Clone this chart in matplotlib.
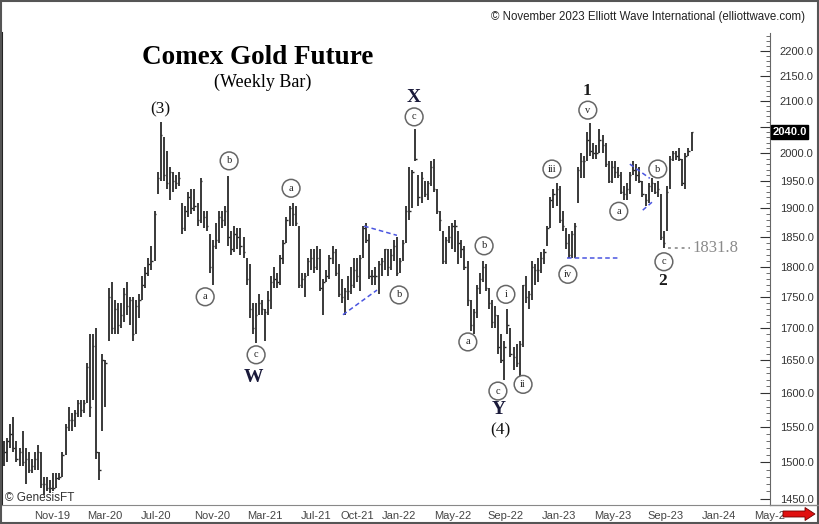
import matplotlib
matplotlib.use('Agg')
import matplotlib.pyplot as plt
import matplotlib.transforms as mtransforms
from matplotlib.patches import Rectangle, FancyArrow
import pandas as pd

# weekly bars, first bar = week of 12 Aug 2019
start = '2019-08-12'

highs = [
    # 2019
    1530, 1535, 1555, 1565, 1530, 1520, 1545, 1520, 1515, 1505, 1515, 1525, 1515, 1480, 1480,
    1475, 1485, 1485, 1485, 1515, 1555,
    # 2020
    1580, 1570, 1575, 1590, 1590, 1590, 1645, 1690, 1690, 1700, 1515, 1660, 1650, 1765, 1775,
    1745, 1740, 1740, 1765, 1775, 1750, 1750, 1745, 1755, 1785, 1800, 1815, 1835, 1895, 1965,
    2060, 2030, 2005, 1975, 1965, 1960, 1965, 1910, 1905, 1930, 1935, 1935, 1910, 1955, 1895,
    1895, 1855, 1845, 1875, 1895, 1895, 1905,
    # 2021
    1958, 1860, 1870, 1865, 1865, 1850, 1815, 1805, 1740, 1740, 1755, 1745, 1730, 1760, 1785,
    1800, 1790, 1820, 1845, 1885, 1905, 1910, 1905, 1870, 1790, 1790, 1815, 1830, 1830, 1835,
    1830, 1780, 1795, 1820, 1835, 1830, 1805, 1780, 1765, 1785, 1800, 1815, 1815, 1820, 1870,
    1875, 1855, 1795, 1800, 1810, 1815, 1830,
    # 2022
    1830, 1830, 1845, 1850, 1815, 1845, 1905, 1975, 1970, 2045, 1960, 1965, 1950, 1950, 1985,
    1990, 1935, 1895, 1860, 1850, 1870, 1875, 1880, 1860, 1845, 1835, 1810, 1745, 1730, 1770,
    1790, 1810, 1805, 1765, 1745, 1735, 1720, 1690, 1680, 1730, 1700, 1670, 1675, 1680, 1770,
    1785, 1760, 1810, 1805, 1815, 1825, 1830,
    # 2023
    1870, 1920, 1935, 1945, 1940, 1895, 1865, 1855, 1860, 1875, 1975, 2000, 1995, 2040, 2057,
    2020, 2015, 2045, 2035, 2020, 1985, 1985, 1985, 1975, 1965, 1940, 1945, 1965, 1985, 1980,
    1975, 1950, 1925, 1945, 1955, 1945, 1950, 1925, 1860, 1940, 1995, 2005, 2005, 2010, 1990,
    2000, 2010, 2040,
]

lows = [
    # 2019
    1495, 1500, 1520, 1515, 1500, 1495, 1495, 1470, 1485, 1485, 1490, 1490, 1465, 1455, 1460,
    1458, 1460, 1465, 1475, 1480, 1510,
    # 2020
    1545, 1545, 1550, 1565, 1565, 1570, 1585, 1565, 1590, 1505, 1476, 1545, 1580, 1680, 1690,
    1690, 1690, 1700, 1710, 1720, 1705, 1680, 1690, 1715, 1745, 1765, 1785, 1795, 1810, 1925,
    1950, 1950, 1935, 1915, 1930, 1935, 1940, 1855, 1860, 1885, 1890, 1895, 1870, 1875, 1865,
    1860, 1790, 1770, 1830, 1840, 1865, 1870,
    # 2021
    1835, 1820, 1825, 1830, 1820, 1815, 1770, 1715, 1690, 1676, 1720, 1720, 1680, 1720, 1730,
    1765, 1765, 1770, 1805, 1840, 1870, 1870, 1870, 1765, 1765, 1750, 1785, 1795, 1790, 1795,
    1760, 1720, 1775, 1780, 1805, 1785, 1750, 1740, 1720, 1745, 1755, 1765, 1775, 1760, 1815,
    1840, 1780, 1770, 1770, 1755, 1785, 1795,
    # 2022
    1785, 1795, 1810, 1785, 1790, 1810, 1840, 1880, 1900, 1985, 1905, 1910, 1920, 1915, 1940,
    1930, 1890, 1860, 1805, 1805, 1840, 1830, 1825, 1805, 1815, 1795, 1735, 1695, 1690, 1715,
    1755, 1775, 1760, 1730, 1700, 1700, 1660, 1645, 1620, 1690, 1655, 1635, 1640, 1625, 1670,
    1740, 1730, 1745, 1770, 1775, 1790, 1805,
    # 2023
    1835, 1865, 1900, 1905, 1875, 1860, 1830, 1815, 1815, 1815, 1910, 1955, 1955, 1985, 1995,
    1990, 1990, 2000, 2000, 1975, 1945, 1945, 1955, 1955, 1925, 1915, 1915, 1925, 1960, 1950,
    1945, 1920, 1905, 1910, 1930, 1925, 1920, 1845, 1832, 1860, 1935, 1985, 1988, 1985, 1940,
    1935, 1995, 2005,
]

closes = [
    # 2019
    1515, 1530, 1540, 1520, 1505, 1515, 1500, 1505, 1490, 1495, 1505, 1515, 1470, 1470, 1465,
    1465, 1465, 1478, 1480, 1510, 1550,
    # 2020
    1560, 1560, 1570, 1585, 1575, 1585, 1640, 1580, 1672, 1515, 1490, 1650, 1645, 1750, 1700,
    1730, 1705, 1720, 1755, 1735, 1745, 1690, 1735, 1745, 1770, 1790, 1805, 1810, 1890, 1955,
    2035, 1960, 1945, 1965, 1950, 1945, 1955, 1865, 1895, 1920, 1900, 1905, 1880, 1950, 1885,
    1870, 1800, 1835, 1845, 1885, 1880, 1895,
    # 2021
    1850, 1830, 1855, 1850, 1835, 1825, 1780, 1730, 1700, 1720, 1740, 1730, 1725, 1745, 1775,
    1780, 1775, 1815, 1840, 1880, 1900, 1890, 1875, 1770, 1780, 1785, 1810, 1815, 1800, 1815,
    1765, 1775, 1785, 1815, 1825, 1790, 1755, 1750, 1760, 1760, 1770, 1795, 1785, 1815, 1865,
    1845, 1785, 1785, 1785, 1805, 1810, 1830,
    # 2022
    1800, 1820, 1835, 1790, 1810, 1840, 1895, 1895, 1965, 1990, 1920, 1955, 1925, 1945, 1975,
    1935, 1895, 1880, 1810, 1845, 1850, 1870, 1870, 1840, 1830, 1800, 1745, 1705, 1725, 1765,
    1780, 1800, 1765, 1740, 1710, 1720, 1670, 1650, 1670, 1705, 1660, 1655, 1645, 1675, 1770,
    1750, 1755, 1800, 1795, 1795, 1815, 1825,
    # 2023
    1865, 1915, 1925, 1935, 1880, 1870, 1840, 1820, 1855, 1870, 1970, 1985, 1985, 2025, 2005,
    2000, 2000, 2025, 2015, 1980, 1950, 1975, 1965, 1960, 1930, 1925, 1935, 1960, 1970, 1960,
    1950, 1925, 1915, 1940, 1945, 1930, 1935, 1850, 1840, 1930, 1990, 2000, 1995, 1990, 1945,
    1995, 2005, 2040,
]

month_ticks = ['2019-11-01', '2020-03-01', '2020-07-01', '2020-11-01', '2021-03-01',
               '2021-07-01', '2021-10-01', '2022-01-01', '2022-05-01', '2022-09-01',
               '2023-01-01', '2023-05-01', '2023-09-01', '2024-01-01', '2024-05-01']
month_labels = ['Nov-19', 'Mar-20', 'Jul-20', 'Nov-20', 'Mar-21', 'Jul-21', 'Oct-21',
                'Jan-22', 'May-22', 'Sep-22', 'Jan-23', 'May-23', 'Sep-23', 'Jan-24', 'May-2']
price_ticks = list(range(1450, 2201, 50))
last_price = 2040.0
wave2_low = 1831.8

# wave labels: (week number, price, text)
circled = [
    (65.5, 1750, 'a'), (73.3, 1986, 'b'), (82.1, 1658, 'c'),
    (93.5, 1936, 'a'), (128.7, 1753, 'b'), (133.6, 2069, 'c'),
    (151.1, 1678, 'a'), (156.4, 1835, 'b'), (160.9, 1603, 'c'),
    (163.5, 1754, 'i'), (169.1, 1613, 'ii'), (178.5, 1971, 'iii'),
    (183.7, 1787, 'iv'), (190.2, 2082, 'v'),
    (200.3, 1895, 'a'), (213.0, 1971, 'b'), (215.0, 1808, 'c'),
]
degree_labels = [(50.8, 2084, '(3)'), (161.6, 1546, '(4)')]
bold_labels = [(81.4, 1624, 'W'), (133.6, 2106, 'X'), (161.2, 1576, 'Y')]
wave_numbers = [(189.9, 2120, '1'), (214.7, 1776, '2')]
# blue dashed guide lines: (week1, price1, week2, price2)
guides = [
    (117.3, 1869, 128.0, 1853), (110.4, 1721, 121.5, 1761),
    (183.4, 1815, 200.0, 1815),
    (203.9, 1980, 210.4, 1954), (208.1, 1897, 211.1, 1911),
]

t0 = pd.Timestamp(start)
weeks = pd.date_range(start, periods=len(highs), freq='7D')


def wk(w):
    return t0 + pd.Timedelta(days=7 * w)


serif = 'Liberation Serif'
sans = 'Liberation Sans'

fig = plt.figure(figsize=(8.2, 5.24), dpi=100)
ax = fig.add_axes([2 / 820, 19 / 524, 768 / 820, 472 / 524])

# bars: high-low line plus close tick
ax.vlines(weeks, lows, highs, color='#2a2a2a', lw=1.3)
tick = pd.Timedelta(days=3)
ax.hlines(closes, weeks, weeks + tick, color='#2a2a2a', lw=1.0)

ax.set_yscale('log')
ax.set_ylim(1441.7, 2237)
ax.set_xlim(pd.Timestamp('2019-08-07'), pd.Timestamp('2024-05-24'))

# right price scale; the label under the current-price box is left out
ax.yaxis.tick_right()
ax.set_yticks(price_ticks)
ax.set_yticklabels(['' if abs(v - last_price) < 20 else f'{v:.1f}' for v in price_ticks])
ax.yaxis.set_minor_locator(matplotlib.ticker.FixedLocator(range(1450, 2231, 10)))
ax.yaxis.set_minor_formatter(matplotlib.ticker.NullFormatter())
ax.tick_params(axis='y', which='major', direction='in', length=7, width=0.8,
               pad=7, labelsize=8, colors='#333333')
ax.tick_params(axis='y', which='minor', direction='in', length=3, width=0.6, colors='#555555')
for lab in ax.get_yticklabels():
    lab.set_family(sans)

ax.set_xticks([pd.Timestamp(d) for d in month_ticks])
ax.set_xticklabels(month_labels, ha='left', fontsize=8, family=sans, color='#444444')
ax.tick_params(axis='x', length=0, pad=4)
shift = mtransforms.ScaledTranslation(-4 / 72, 0, fig.dpi_scale_trans)
for lab in ax.get_xticklabels():
    lab.set_transform(lab.get_transform() + shift)

ax.spines['top'].set_visible(False)
ax.spines['left'].set_color('#222222')
ax.spines['left'].set_linewidth(1.5)
ax.spines['bottom'].set_color('#888888')
ax.spines['right'].set_color('#666666')

# guide lines
for w1, p1, w2, p2 in guides:
    ax.plot([wk(w1), wk(w2)], [p1, p2], color='#4a55e0', lw=1.1, ls=(0, (3, 2)))

# wave 2 low marker
ax.plot([wk(216.3), wk(223.5)], [wave2_low, wave2_low], color='#9a9a9a', lw=1.4, ls=(0, (1.5, 2)))
ax.text(wk(224.4), wave2_low, f'{wave2_low:.1f}', family=serif, fontsize=12,
        color='#8a8a8a', va='center', ha='left')

for w, p, s in circled:
    ax.text(wk(w), p, s, ha='center', va='center', fontsize=7.5, family=serif, color='#222222',
            bbox=dict(boxstyle='circle,pad=0.42', fc='white', ec='#666666', lw=1.1))

for w, p, s in degree_labels:
    ax.text(wk(w), p, s, ha='center', va='center', fontsize=12.5, family=serif, color='#111111')
for w, p, s in bold_labels:
    ax.text(wk(w), p, s, ha='center', va='center', fontsize=14, family=serif,
            fontweight='bold', color='#1a1a3a')
for w, p, s in wave_numbers:
    ax.text(wk(w), p, s, ha='center', va='center', fontsize=12.5, family=serif,
            fontweight='bold', color='#1a1a1a')

# current price box
trans = mtransforms.blended_transform_factory(ax.transAxes, ax.transData)
ax.text(1.003, last_price, f'{last_price:.1f}', transform=trans, ha='left', va='center',
        fontsize=8, family=sans, color='white', fontweight='bold',
        bbox=dict(fc='black', ec='black', pad=1.2))

# titles
fig.text(258 / 820, 1 - 57 / 524, 'Comex Gold Future', ha='center', va='center',
         family=serif, fontsize=19.5, fontweight='bold', color='black')
fig.text(263 / 820, 1 - 82 / 524, '(Weekly Bar)', ha='center', va='center',
         family=serif, fontsize=13, color='black')
fig.text(805 / 820, 1 - 17 / 524, '\u00a9 November 2023 Elliott Wave International (elliottwave.com)',
         ha='right', va='center', family=sans, fontsize=8.3, color='#222222')
fig.text(5 / 820, 1 - 498 / 524, '\u00a9 GenesisFT', ha='left', va='center',
         family=sans, fontsize=8.5, color='#333333')

# frame and arrow
fig.patches.append(Rectangle((0.001, 0.002), 0.997, 0.996, transform=fig.transFigure,
                             fill=False, ec='#555555', lw=1.5))
fig.lines.append(plt.Line2D([770 / 820, 1], [19 / 524, 19 / 524], transform=fig.transFigure,
                            color='#888888', lw=1))
fig.patches.append(FancyArrow(783 / 820, 1 - 514 / 524, 22 / 820, 0, width=6 / 524,
                              head_width=13 / 524, head_length=10 / 820,
                              length_includes_head=False, transform=fig.transFigure,
                              fc='#e01010', ec='#700000', lw=0.6))

fig.savefig('out.png', dpi=100)
